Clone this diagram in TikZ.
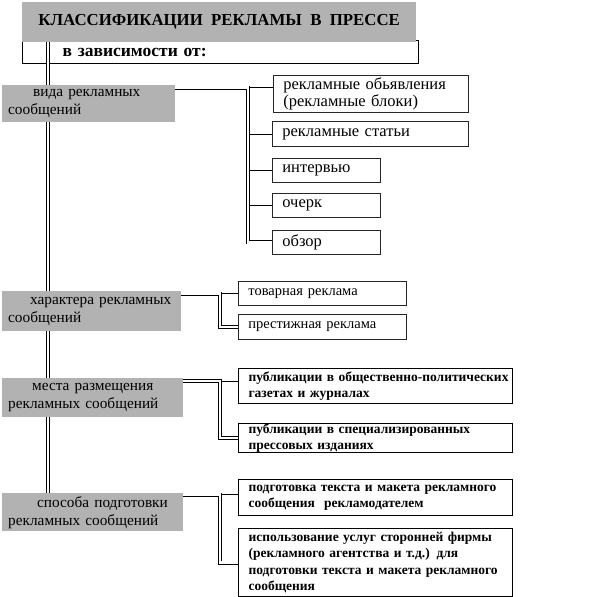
\documentclass[tikz,border=0pt]{standalone}
\usepackage{fontspec}
\setmainfont{Liberation Serif}
\usetikzlibrary{calc}

\begin{document}
\begin{tikzpicture}[x=1pt, y=-1pt,
    graybox/.style={fill=black!30, anchor=north west, align=left, inner xsep=6pt, inner ysep=0pt, font=\fontsize{15.3}{18}\selectfont},
    itembox/.style={draw=black!85, line width=0.8pt, fill=white, anchor=north west, align=left, inner xsep=10pt, inner ysep=0pt, font=\fontsize{14.5}{16}\selectfont},
    bigbox/.style={itembox, font=\fontsize{16.5}{16.5}\selectfont},
    boldbox/.style={itembox, draw=black, line width=1.1pt, font=\fontsize{13.5}{16.3}\selectfont\bfseries},
    dbl/.style={double, double distance=2.6pt, line width=0.7pt},
    link/.style={line width=0.7pt}]
    \useasboundingbox (0,0) rectangle (597,597);

    % --- 1. Parameters ---
    \coordinate (tx) at (48,0);   % trunk
    \coordinate (v1) at (248,0);  % first branch line
    \coordinate (v2) at (220,0);  % other branch lines

    % --- 2. Heading ---
    \node[draw, line width=1pt, anchor=north west, minimum width=396pt, minimum height=23pt, text width=396pt, inner sep=0pt, align=left, font=\fontsize{17.5}{18}\selectfont\bfseries] (sub) at (22,40) {\hspace*{40pt}в зависимости от:};
    \node[fill=black!30, anchor=north west, minimum width=394pt, minimum height=40pt, inner sep=0pt, font=\fontsize{16.8}{18}\selectfont\bfseries] (title) at (22,2) {КЛАССИФИКАЦИИ\ \ РЕКЛАМЫ\ \ В\ \ ПРЕССЕ};

    % --- 3. Criteria (gray boxes) ---
    \node[graybox, text width=161pt, minimum height=37pt] (g1) at (2,85) {\hspace*{25pt}вида рекламных\\сообщений};
    \node[graybox, text width=167pt, minimum height=40pt] (g2) at (2,291) {\hspace*{22pt}характера рекламных\\сообщений};
    \node[graybox, text width=169pt, minimum height=39pt] (g3) at (2,378) {\hspace*{24pt}места размещения\\рекламных сообщений};
    \node[graybox, text width=169pt, minimum height=38pt] (g4) at (2,493) {\hspace*{29pt}способа подготовки\\рекламных сообщений};

    % --- 4. Kinds ---
    \node[bigbox, text width=175pt, minimum height=37pt] (b1) at (273,75) {рекламные обьявления\\(рекламные блоки)};
    \node[bigbox, text width=176pt, minimum height=25pt] (b2) at (272,121) {рекламные статьи};
    \node[bigbox, text width=88pt, minimum height=24pt] (b3) at (272,158) {интервью};
    \node[bigbox, text width=88pt, minimum height=24pt] (b4) at (272,193) {очерк};
    \node[bigbox, text width=88pt, minimum height=24pt] (b5) at (272,230) {обзор};

    \node[itembox, text width=148pt, minimum height=24pt] (c1) at (238,281) {товарная реклама};
    \node[itembox, text width=148pt, minimum height=25pt] (c2) at (238,314) {престижная реклама};

    \node[boldbox, text width=254pt, minimum height=35pt] (d1) at (238,368) {\mbox{публикации в общественно-политических}\\газетах и журналах};
    \node[boldbox, text width=254pt, minimum height=29pt] (d2) at (238,423) {публикации в специализированных\\прессовых изданиях};

    \node[boldbox, text width=254pt, minimum height=36pt] (e1) at (238,479) {подготовка текста и макета рекламного\\сообщения~ рекламодателем};
    \node[boldbox, text width=254pt, minimum height=68pt] (e2) at (238,528) {использование услуг сторонней фирмы\\(рекламного агентства и т.д.) для\\подготовки текста и макета рекламного\\сообщения};

    % --- 5. Connectors ---
    \coordinate (j1) at ($(g1.north east)+(0,2.5)$);
    \coordinate (j2) at ($(g2.north east)+(0,2.5)$);
    \coordinate (j3) at ($(g3.north east)+(0,3)$);
    \coordinate (j4) at ($(g4.north east)+(0,1.5)$);

    % single branches
    \draw[link] (j1 -| v1) -- (j1 -| b1.west);
    \foreach \b in {b2,b3,b4}
        \draw[link] (\b.west -| v1) -- (\b.west);
    \draw[link] (j2 -| v2) -- (j2 -| c1.west);
    \draw[link] (j3 -| v2) -- (j3 -| d1.west);
    \draw[link] (j4 -| v2) -- (j4 -| e1.west);

    % double elbows
    \draw[dbl] (j1) -- (j1 -| v1) |- (b5.west);
    \draw[dbl] (j2) -- (j2 -| v2) |- (c2.west);
    \draw[dbl] (j3) -- (j3 -| v2) |- (d2.west);
    \draw[dbl] (j4) -- (j4 -| v2) |- (e2.west);

    % trunk
    \draw[dbl] (title.south -| tx) -- (g1.north -| tx);
    \draw[dbl] (g1.south -| tx) -- (g2.north -| tx);
    \draw[dbl] (g2.south -| tx) -- (g3.north -| tx);
    \draw[dbl] (g3.south -| tx) -- (g4.north -| tx);
\end{tikzpicture}
\end{document}
